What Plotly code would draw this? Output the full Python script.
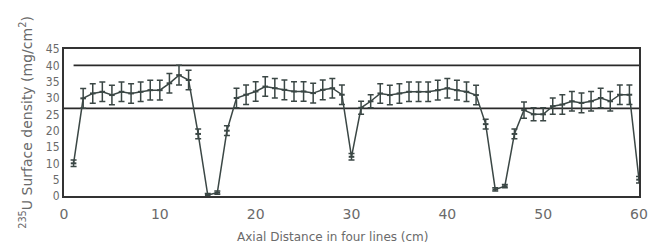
import plotly.graph_objects as go

# Axial positions (cm) and measured 235U surface density (mg/cm^2)
axial_cm = list(range(1, 61))
density = [10, 29.9, 31.4, 31.9, 30.9, 31.9, 31.4, 31.9, 32.4, 32.4,
           34.5, 37.0, 35.5, 19, 0.3, 1, 20, 30, 31, 32,
           33.5, 33, 32.5, 32, 32, 31.5, 32.5, 33, 31, 12,
           27, 29, 31.4, 30.9, 31.4, 31.9, 31.9, 31.9, 32.4, 33,
           32.4, 31.9, 30.9, 22, 2, 3, 19, 26.3, 25, 25,
           27.5, 28, 29, 28.5, 29, 30, 29, 31, 31, 5]
uncert = [1, 3, 3, 3, 3, 3, 3, 3, 3, 3,
          3, 3, 3, 1.5, 0.5, 0.5, 1.5, 3, 3, 3,
          3, 3, 3, 3, 3, 3, 3, 3, 3, 1,
          2, 2, 3, 3, 3, 3, 3, 3, 3, 3,
          3, 3, 3, 1.5, 0.5, 0.5, 1.5, 2.5, 2, 2,
          2.5, 3, 3, 3, 3, 3, 3, 3, 3, 1]

upper_limit = 40
lower_limit = 26.8
upper_x = [1, 60]
lower_x = [0, 60]

x_ticks = [0, 10, 20, 30, 40, 50, 60]
y_ticks = [0, 5, 10, 15, 20, 25, 30, 35, 40, 45]

line_col = "#3b4745"
txt_col = "#6a6a6a"
fam = "DejaVu Sans, Verdana, sans-serif"

fig = go.Figure()
fig.add_trace(go.Scatter(x=upper_x, y=[upper_limit] * 2, mode="lines",
                         line=dict(color="#2a2a2a", width=1.8), showlegend=False))
fig.add_trace(go.Scatter(x=lower_x, y=[lower_limit] * 2, mode="lines",
                         line=dict(color="#2a2a2a", width=1.8), showlegend=False))
fig.add_trace(go.Scatter(
    x=axial_cm, y=density, mode="lines+markers",
    line=dict(color=line_col, width=1.5),
    marker=dict(color=line_col, size=4, symbol="line-ew", line=dict(color=line_col, width=2)),
    error_y=dict(type="data", array=uncert, visible=True, color=line_col,
                 thickness=1.5, width=3),
    showlegend=False))

fig.update_layout(
    width=658, height=243,
    margin=dict(l=64, r=10, t=49, b=47),
    paper_bgcolor="white", plot_bgcolor="white",
    font=dict(family=fam, color=txt_col),
)
fig.update_xaxes(range=[0, 60], tickvals=x_ticks, showgrid=False, zeroline=False,
                 showline=True, linecolor="#333333", linewidth=2, mirror=True,
                 ticks="", ticklen=0, ticklabelstandoff=4,
                 tickfont=dict(family=fam, size=14, color=txt_col))
fig.update_yaxes(range=[0, 45], tickvals=y_ticks, showgrid=False, zeroline=False,
                 showline=True, linecolor="#333333", linewidth=2, mirror=True,
                 ticks="", tickfont=dict(family="DejaVu Sans Condensed, DejaVu Sans, sans-serif",
                                         size=12, color=txt_col),
                 title=dict(text="<sup>235</sup>U Surface density (mg/cm<sup>2</sup>)",
                            font=dict(family=fam, size=14, color=txt_col), standoff=10))
fig.add_annotation(text="Axial Distance in four lines (cm)", xref="paper", yref="paper",
                   x=0.467, y=-0.22, xanchor="center", yanchor="top", showarrow=False,
                   font=dict(family=fam, size=12, color=txt_col))

fig.write_html("out.html", config={"displayModeBar": False},
               post_script="document.body.style.margin='0';")
